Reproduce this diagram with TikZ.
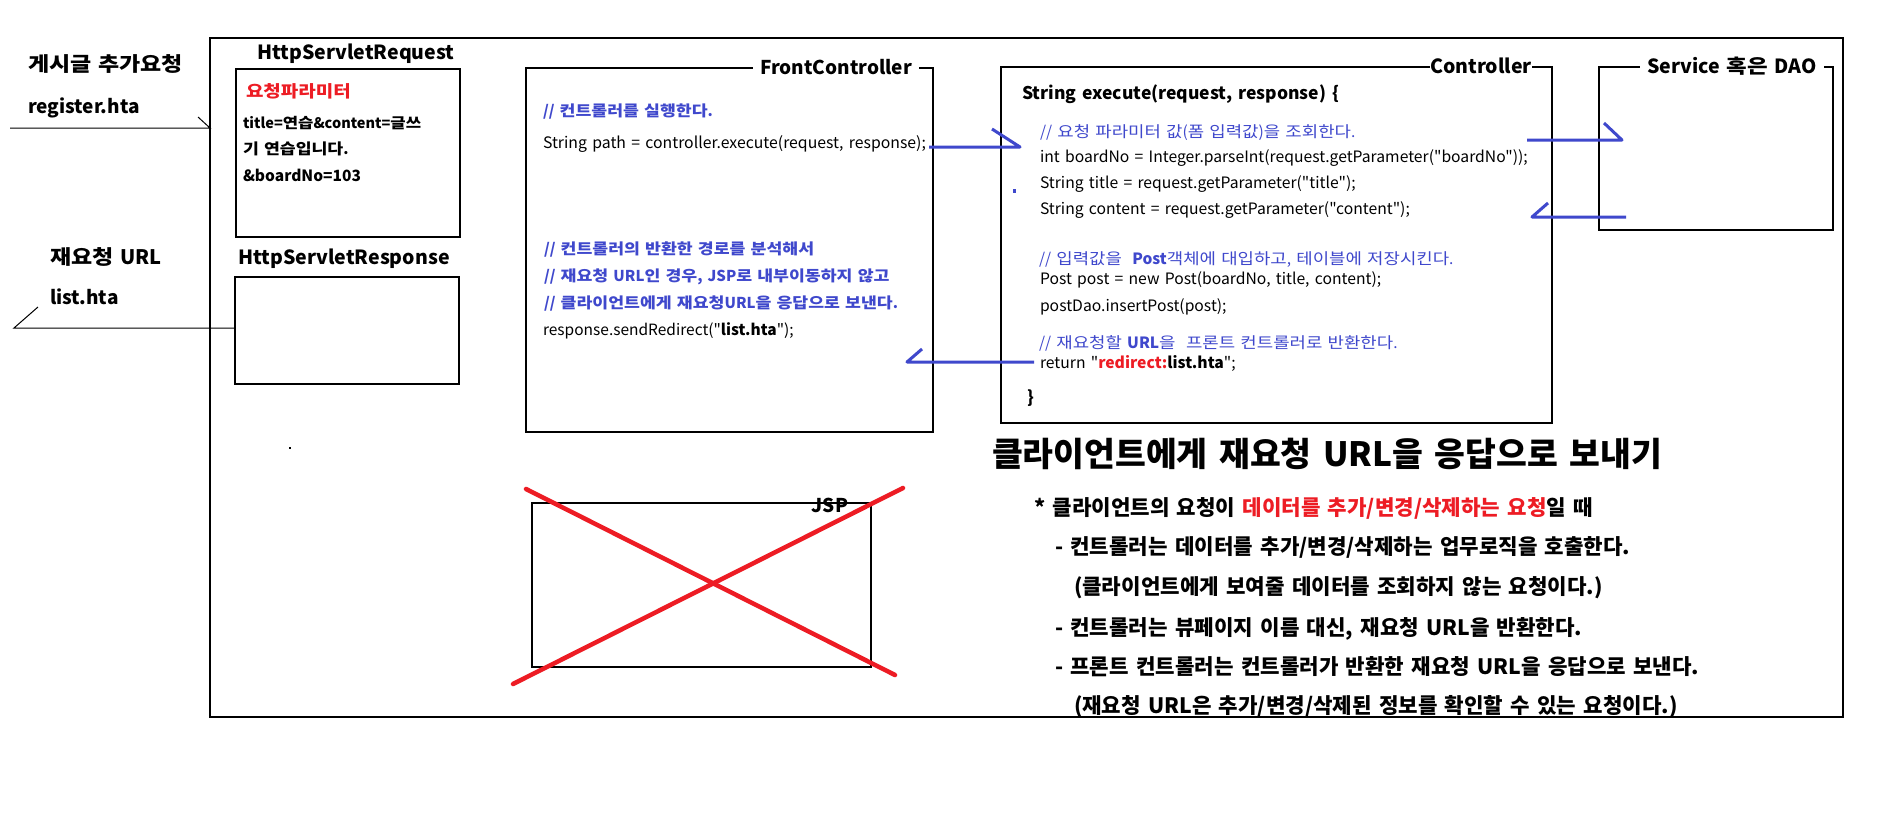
\documentclass[tikz,border=0pt]{standalone}
\usepackage{fontspec}
\setmainfont{Noto Sans CJK KR}[WordSpace=1.5,Ligatures=TeXOff]
\newfontfamily\hgfamily{Noto Sans CJK KR}[FakeStretch=1.15,WordSpace=1.5,Ligatures=TeXOff]
\definecolor{pred}{RGB}{237,28,36}
\definecolor{pblue}{RGB}{63,72,204}
\newcommand\fsz[1]{\fontsize{#1}{#1}\selectfont}
\newcommand\nohgstretch{\XeTeXinterchartokenstate=0\relax}
% Hangul syllables are set slightly wider, as in the reference
\XeTeXinterchartokenstate=1
\newXeTeXintercharclass\HGclass
\newcount\hgcnt
\hgcnt="AC00
\loop
  \XeTeXcharclass\hgcnt=\HGclass
  \ifnum\hgcnt<"D7A3 \advance\hgcnt by 1 \repeat
\XeTeXinterchartoks 0 \HGclass = {\hgfamily}
\XeTeXinterchartoks 4095 \HGclass = {\hgfamily}
\XeTeXinterchartoks \HGclass 0 = {\rmfamily}
\XeTeXinterchartoks \HGclass 4095 = {\rmfamily}
\begin{document}
\begin{tikzpicture}[x=1pt,y=-1pt,
  txt/.style={anchor=west, inner sep=0pt, outer sep=0pt, text height=0.8em, text depth=0.1em, yshift=-3pt},
  box/.style={draw, line width=1.3pt, anchor=north west, inner sep=0pt, outer sep=0pt},
  ttl/.style={fill=white, inner xsep=7pt, inner ysep=0pt, text height=0.8em, text depth=0.1em, yshift=-3pt, font=\bfseries\fsz{19}},
  arr/.style={draw=pblue, line width=3pt, line join=round},
  lead/.style={draw=black, line width=1pt},
  cross/.style={draw=pred, line width=4.5pt, line cap=round},
  cmt/.style={txt, text=pblue},
  plain/.style={txt, font=\nohgstretch\bfseries\fsz{21.2}},
]
\fill[white] (0,0) rectangle (1887,825);
\useasboundingbox (0,0) rectangle (1887,825);

% boxes
\node[box, minimum width=1633pt, minimum height=679pt] (frame) at (210,38) {};
\node[box, minimum width=224pt, minimum height=168pt] (req) at (236,69) {};
\node[box, minimum width=224pt, minimum height=107pt] (resp) at (235,277) {};
\node[box, minimum width=407pt, minimum height=364pt] (fc) at (526,68) {};
\node[box, minimum width=551pt, minimum height=356pt] (ctrl) at (1001,67) {};
\node[box, minimum width=234pt, minimum height=163pt] (svc) at (1599,67) {};
\node[box, minimum width=339pt, minimum height=164pt] (jsp) at (532,503) {};

% titles
\node[txt, anchor=center, font=\bfseries\fsz{19.5}] (reqt) at (356,53) {HttpServletRequest};
\node[txt, anchor=center, font=\bfseries\fsz{19.5}] (respt) at (344,258) {HttpServletResponse};
\node[ttl] (fct) at (836,68) {FrontController};
\node[ttl, anchor=west, inner xsep=0pt, font=\bfseries\fsz{19.5}] (ctrlt) at (1430,67) {Controller\hspace{9pt}};
\node[ttl, font=\bfseries\fsz{19.5}] (svct) at (1732,67) {Service 혹은 DAO};
\node[ttl] (jspt) at (830,506) {JSP};

% left labels
\node[txt, font=\bfseries\fsz{20}] (l1) at (28,65) {게시글 추가요청};
\node[txt, font=\bfseries\fsz{19}] (l2) at (28,107) {register.hta};
\node[txt, font=\bfseries\fsz{20}] (l3) at (50,258) {재요청 URL};
\node[txt, font=\bfseries\fsz{19}] (l4) at (50,298) {list.hta};

\coordinate (c1) at (10,128);
\coordinate (c2) at (14,328);
\draw[lead] (c1) -- (frame.west |- c1) -- ++(-12,-11);
\draw[lead] (resp.west |- c2) -- (c2) -- ++(24,-21);

% request content
\node[txt, text=pred, font=\bfseries\fsz{16.5}] (rp) at (246,91) {요청파라미터};
\node[txt, font=\bfseries\fsz{14.5}] (rp1) at (243,122) {title=연습\&content=글쓰};
\node[txt, font=\bfseries\fsz{15}] (rp2) at (243,148) {기 연습입니다.};
\node[txt, font=\bfseries\fsz{15.5}] (rp3) at (243,175) {\&boardNo=103};

% front controller content
\node[cmt, font=\bfseries\fsz{15}] (f1) at (543,110) {// 컨트롤러를 실행한다.};
\node[txt, font=\fsz{15.8}] (f2) at (543,142) {String path = controller.execute(request, response);};
\node[cmt, font=\bfseries\fsz{15}] (f3) at (544,248) {// 컨트롤러의 반환한 경로를 분석해서};
\node[cmt, font=\bfseries\fsz{15}] (f4) at (544,275) {// 재요청 URL인 경우, JSP로 내부이동하지 않고};
\node[cmt, font=\bfseries\fsz{15}] (f5) at (544,302) {// 클라이언트에게 재요청URL을 응답으로 보낸다.};
\node[txt, font=\fsz{15.5}] (f6) at (543,329) {response.sendRedirect("\textbf{list.hta}");};

% controller content
\node[txt, font=\bfseries\fsz{17.5}] (k0) at (1022,93) {String execute(request, response) \{};
\node[cmt, font=\fsz{15.5}] (k1) at (1040,131) {// 요청 파라미터 값(폼 입력값)을 조회한다.};
\node[txt, font=\fsz{15.7}] (k2) at (1040,156) {int boardNo = Integer.parseInt(request.getParameter("boardNo"));};
\node[txt, font=\fsz{15.7}] (k3) at (1040,182) {String title = request.getParameter("title");};
\node[txt, font=\fsz{15.7}] (k4) at (1040,208) {String content = request.getParameter("content");};
\node[cmt, font=\fsz{15.5}] (k5) at (1039,258) {// 입력값을\ \ \textbf{Post}객체에 대입하고, 테이블에 저장시킨다.};
\node[txt, font=\fsz{15.7}] (k6) at (1040,278) {Post post = new Post(boardNo, title, content);};
\node[txt, font=\fsz{15.7}] (k7) at (1040,305) {postDao.insertPost(post);};
\node[cmt, font=\fsz{15.5}] (k8) at (1039,342) {// 재요청할 \textbf{URL}을\ \ 프론트 컨트롤러로 반환한다.};
\node[txt, font=\fsz{15.7}] (k9) at (1040,362) {return "\textbf{\textcolor{pred}{redirect:}list.hta}";};
\node[txt, font=\bfseries\fsz{17}] (k10) at (1027,397) {\}};

% stray dots
\fill[pblue] (1013,189) rectangle (1016,193);
\fill[black] (289,447) rectangle (291,449);

% arrows
\coordinate (a1s) at (929,147);
\coordinate (a1e) at (1020,147);
\draw[arr] (a1s) -- (a1e) -- ++(-28,-18);
\coordinate (a2s) at (1034,362);
\coordinate (a2e) at (907,362);
\draw[arr] (a2s) -- (a2e) -- ++(15,-13);
\coordinate (a3s) at (1527,140);
\coordinate (a3e) at (1622,140);
\draw[arr] (a3s) -- (a3e) -- ++(-18,-17);
\coordinate (a4s) at (1626,217);
\coordinate (a4e) at (1532,217);
\draw[arr] (a4s) -- (a4e) -- ++(16,-14);

% JSP cross
\draw[cross] (526,489) -- (895,675);
\draw[cross] (513,684) -- (903,488);

% right explanation
\node[txt, font=\nohgstretch\bfseries\fsz{33.5}] (h0) at (992,460) {클라이언트에게 재요청 URL을 응답으로 보내기};
\node[plain] (h1) at (1034,509) {* 클라이언트의 요청이 \textcolor{pred}{데이터를 추가/변경/삭제하는 요청}일 때};
\node[plain] (h2) at (1055,548) {- 컨트롤러는 데이터를 추가/변경/삭제하는 업무로직을 호출한다.};
\node[plain] (h3) at (1074,588) {(클라이언트에게 보여줄 데이터를 조회하지 않는 요청이다.)};
\node[plain] (h4) at (1055,629) {- 컨트롤러는 뷰페이지 이름 대신, 재요청 URL을 반환한다.};
\node[plain] (h5) at (1055,668) {- 프론트 컨트롤러는 컨트롤러가 반환한 재요청 URL을 응답으로 보낸다.};
\node[plain] (h6) at (1074,707) {(재요청 URL은 추가/변경/삭제된 정보를 확인할 수 있는 요청이다.)};
\end{tikzpicture}
\end{document}
